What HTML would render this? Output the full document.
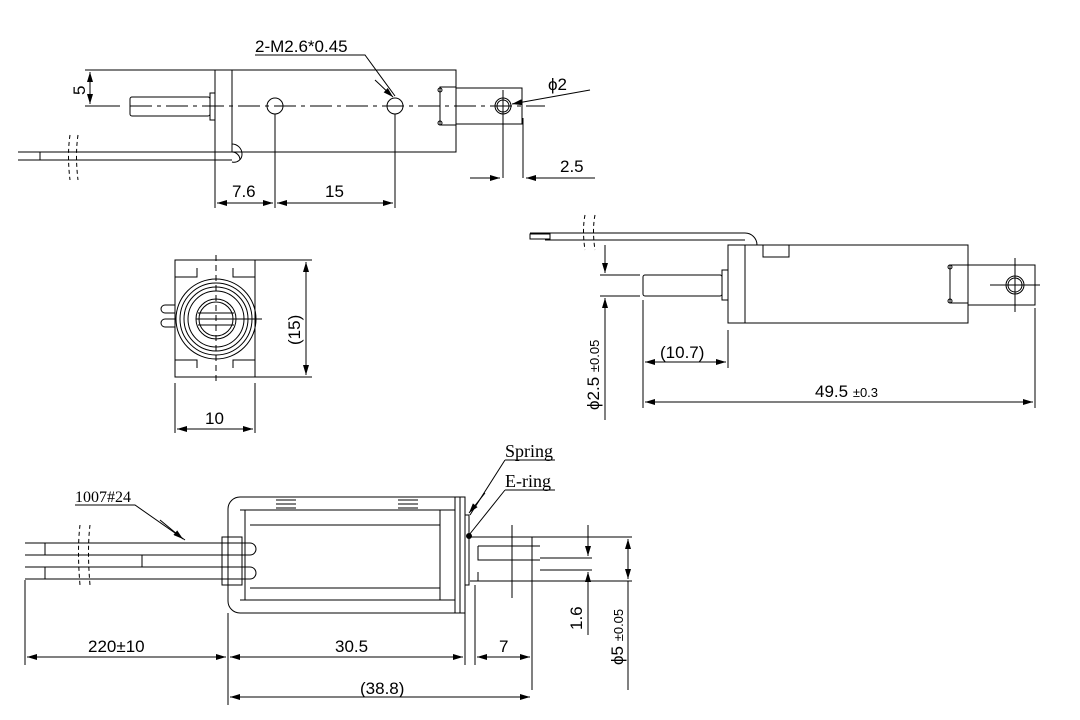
<!DOCTYPE html>
<html><head><meta charset="utf-8"><style>
html,body{margin:0;padding:0;background:#fff;width:1080px;height:720px;overflow:hidden}
text{font-family:"Liberation Sans","DejaVu Sans",sans-serif;fill:#000}
.s{font-family:"Liberation Serif",serif}
</style></head><body>
<svg width="1080" height="720" viewBox="0 0 1080 720" xmlns="http://www.w3.org/2000/svg">
<defs>
<marker id="a" viewBox="0 0 10 6" refX="10" refY="3" markerWidth="14" markerHeight="6" markerUnits="userSpaceOnUse" orient="auto-start-reverse"><path d="M0,0L10,3L0,6z" fill="#000"/></marker>
</defs>
<g fill="none" stroke="#000" stroke-width="1">
<!-- ===== TOP VIEW ===== -->
<line x1="85" y1="70" x2="456" y2="70"/>
<line x1="90" y1="72" x2="90" y2="104" marker-start="url(#a)" marker-end="url(#a)"/>
<line x1="85" y1="106" x2="120" y2="106"/>
<line x1="130" y1="106" x2="545" y2="106" stroke-dasharray="22,5,4,5"/>
<rect x="215" y="70" width="17" height="82"/>
<rect x="232" y="70" width="224" height="82"/>
<rect x="210" y="93" width="5" height="27"/>
<rect x="130" y="97" width="80" height="19" rx="2"/>
<circle cx="275" cy="106" r="8"/>
<circle cx="395" cy="106" r="8"/>
<rect x="440" y="87" width="16" height="38"/>
<circle cx="440" cy="90" r="2"/><circle cx="440" cy="123" r="2"/>
<rect x="456" y="88" width="66" height="36"/>
<circle cx="503" cy="106" r="8"/><circle cx="503" cy="106" r="6"/>
<line x1="503" y1="90" x2="503" y2="178"/>
<line x1="523" y1="118" x2="523" y2="178"/>
<line x1="470" y1="178" x2="500" y2="178" marker-end="url(#a)"/>
<line x1="595" y1="178" x2="526" y2="178" marker-end="url(#a)"/>
<line x1="590" y1="90" x2="512" y2="104" marker-end="url(#a)"/>
<!-- wire -->
<path d="M18,152H232a8,8 0 0 1 8,8 v0 M18,160H232"/>
<path d="M232,144a10,10 0 0 1 10,10 a8,8 0 0 1 -10,8"/>
<line x1="40" y1="152" x2="40" y2="160"/>
<path d="M70,135 q-3,20 0,45 M78,135 q-3,20 0,45" stroke-dasharray="4,3"/>
<!-- dims -->
<line x1="215" y1="152" x2="215" y2="208"/>
<line x1="275" y1="114" x2="275" y2="208" />
<line x1="395" y1="114" x2="395" y2="208"/>
<line x1="217" y1="203" x2="273" y2="203" marker-start="url(#a)" marker-end="url(#a)"/>
<line x1="277" y1="203" x2="393" y2="203" marker-start="url(#a)" marker-end="url(#a)"/>
<path d="M255,55H365L395,96" />
<line x1="375" y1="80" x2="393" y2="97" marker-end="url(#a)"/>
<!-- ===== END VIEW ===== -->
<rect x="175" y="260" width="80" height="117"/>
<path d="M175,277H197V268 M255,277H233V268 M175,360H197V368 M255,360H233V368"/>
<line x1="216" y1="255" x2="216" y2="385" stroke-dasharray="6,4"/>
<circle cx="216" cy="319" r="40"/><circle cx="216" cy="319" r="36"/><circle cx="216" cy="319" r="32"/><circle cx="216" cy="319" r="28"/>
<circle cx="216" cy="319" r="20"/><circle cx="216" cy="319" r="17"/>
<line x1="196" y1="319" x2="262" y2="319"/>
<path d="M198,313H234 M198,325H234"/>
<path d="M175,305h-10a4,4 0 0 0 0,8h10 M175,319h-10a4,4 0 0 0 0,8h10"/>
<line x1="255" y1="260" x2="312" y2="260"/>
<line x1="255" y1="377" x2="312" y2="377"/>
<line x1="306" y1="262" x2="306" y2="375" marker-start="url(#a)" marker-end="url(#a)"/>
<line x1="175" y1="383" x2="175" y2="433"/>
<line x1="255" y1="383" x2="255" y2="433"/>
<line x1="177" y1="429" x2="253" y2="429" marker-start="url(#a)" marker-end="url(#a)"/>
<!-- ===== RIGHT VIEW ===== -->
<path d="M530,233H745a12,12 0 0 1 12,12 M545,240H745"/>
<rect x="530" y="234" width="20" height="5"/>
<path d="M585,215 q-3,15 0,35 M595,215 q-3,15 0,35" stroke-dasharray="4,3"/>
<rect x="728" y="245" width="17" height="78"/>
<rect x="745" y="245" width="223" height="78"/>
<rect x="763" y="245" width="26" height="12"/>
<rect x="722" y="270" width="6" height="30"/>
<rect x="643" y="275" width="79" height="21" rx="2"/>
<rect x="950" y="265" width="18" height="38"/>
<circle cx="950" cy="267" r="2"/><circle cx="950" cy="301" r="2"/>
<rect x="968" y="265" width="67" height="40"/>
<circle cx="1015" cy="285" r="9"/><circle cx="1015" cy="285" r="7"/>
<path d="M990,285H1040 M1015,258V312"/>
<line x1="600" y1="275" x2="640" y2="275"/>
<line x1="600" y1="296" x2="640" y2="296"/>
<line x1="605" y1="245" x2="605" y2="273" marker-end="url(#a)"/>
<line x1="605" y1="420" x2="605" y2="298" marker-end="url(#a)"/>
<line x1="643" y1="300" x2="643" y2="408"/>
<line x1="728" y1="330" x2="728" y2="368"/>
<line x1="1035" y1="308" x2="1035" y2="408"/>
<line x1="645" y1="362" x2="726" y2="362" marker-start="url(#a)" marker-end="url(#a)"/>
<line x1="645" y1="402" x2="1033" y2="402" marker-start="url(#a)" marker-end="url(#a)"/>
<!-- ===== BOTTOM VIEW ===== -->
<path d="M240,497H465V613H240a12,12 0 0 1 -12,-12V509a12,12 0 0 1 12,-12z"/>
<path d="M240,510H455 M240,600H455 M245,510V600 M440,510V600 M455,497V613 M460,497V613"/>
<path d="M250,525H440 M250,588H440"/>
<path d="M276,500h20M276,504h20M276,508h20M398,500h20M398,504h20M398,508h20"/>
<rect x="465" y="515" width="4" height="70"/>
<circle cx="469" cy="536" r="2.5" fill="#000"/>
<path d="M470,537H540 M478,546H540 M478,546V560H540 M470,581H540 M478,572V581"/>
<path d="M25,543H250a6,6 0 0 1 0,12H25 M25,567H250a6,6 0 0 1 0,12H25"/>
<line x1="45" y1="543" x2="45" y2="555"/><line x1="45" y1="567" x2="45" y2="579"/>
<line x1="142" y1="555" x2="142" y2="567"/>
<rect x="222" y="537" width="20" height="48"/>
<path d="M80,525 q-3,25 0,60 M90,525 q-3,25 0,60" stroke-dasharray="4,3"/>
<line x1="512" y1="525" x2="512" y2="598"/>
<line x1="532" y1="537" x2="532" y2="690"/>
<path d="M540,537H632 M540,558H592 M540,570H592 M540,581H632"/>
<line x1="588" y1="525" x2="588" y2="556" marker-end="url(#a)"/>
<line x1="588" y1="635" x2="588" y2="572" marker-end="url(#a)"/>
<line x1="628" y1="539" x2="628" y2="579" marker-start="url(#a)" marker-end="url(#a)"/>
<line x1="628" y1="581" x2="628" y2="690"/>
<path d="M75,505H135L185,540" />
<line x1="160" y1="520" x2="183" y2="539" marker-end="url(#a)"/>
<path d="M505,460H555 M505,460L470,515"/>
<line x1="485" y1="493" x2="469" y2="513" marker-end="url(#a)"/>
<path d="M505,490H555 M505,490L469,535"/>
<line x1="25" y1="580" x2="25" y2="665"/>
<line x1="228" y1="613" x2="228" y2="705"/>
<line x1="465" y1="613" x2="465" y2="665"/>
<line x1="475" y1="585" x2="475" y2="665"/>
<line x1="27" y1="657" x2="226" y2="657" marker-start="url(#a)" marker-end="url(#a)"/>
<line x1="230" y1="657" x2="463" y2="657" marker-start="url(#a)" marker-end="url(#a)"/>
<line x1="477" y1="657" x2="530" y2="657" marker-start="url(#a)" marker-end="url(#a)"/>
<line x1="230" y1="697" x2="530" y2="697" marker-start="url(#a)" marker-end="url(#a)"/>
</g>
<!-- texts -->
<text x="255" y="52" font-size="17">2-M2.6*0.45</text>
<text x="0" y="0" font-size="17" transform="translate(85,95) rotate(-90)">5</text>
<text x="548" y="90" font-size="17">ϕ2</text>
<text x="560" y="172" font-size="17">2.5</text>
<text x="232" y="197" font-size="17">7.6</text>
<text x="325" y="197" font-size="17">15</text>
<text x="205" y="424" font-size="17">10</text>
<text x="0" y="0" font-size="17" transform="translate(300,345) rotate(-90)">(15)</text>
<text x="660" y="358" font-size="17">(10.7)</text>
<text x="815" y="397" font-size="17">49.5 <tspan font-size="13">±0.3</tspan></text>
<text x="0" y="0" font-size="17" transform="translate(599,410) rotate(-90)">ϕ2.5 <tspan font-size="13">±0.05</tspan></text>
<text class="s" x="505" y="457" font-size="18">Spring</text>
<text class="s" x="505" y="487" font-size="18">E-ring</text>
<text class="s" x="75" y="502" font-size="16">1007#24</text>
<text x="88" y="652" font-size="17">220±10</text>
<text x="335" y="652" font-size="17">30.5</text>
<text x="499" y="652" font-size="17">7</text>
<text x="360" y="694" font-size="17">(38.8)</text>
<text x="0" y="0" font-size="17" transform="translate(582,630) rotate(-90)">1.6</text>
<text x="0" y="0" font-size="17" transform="translate(623,665) rotate(-90)">ϕ5 <tspan font-size="13">±0.05</tspan></text>
</svg>
</body></html>
